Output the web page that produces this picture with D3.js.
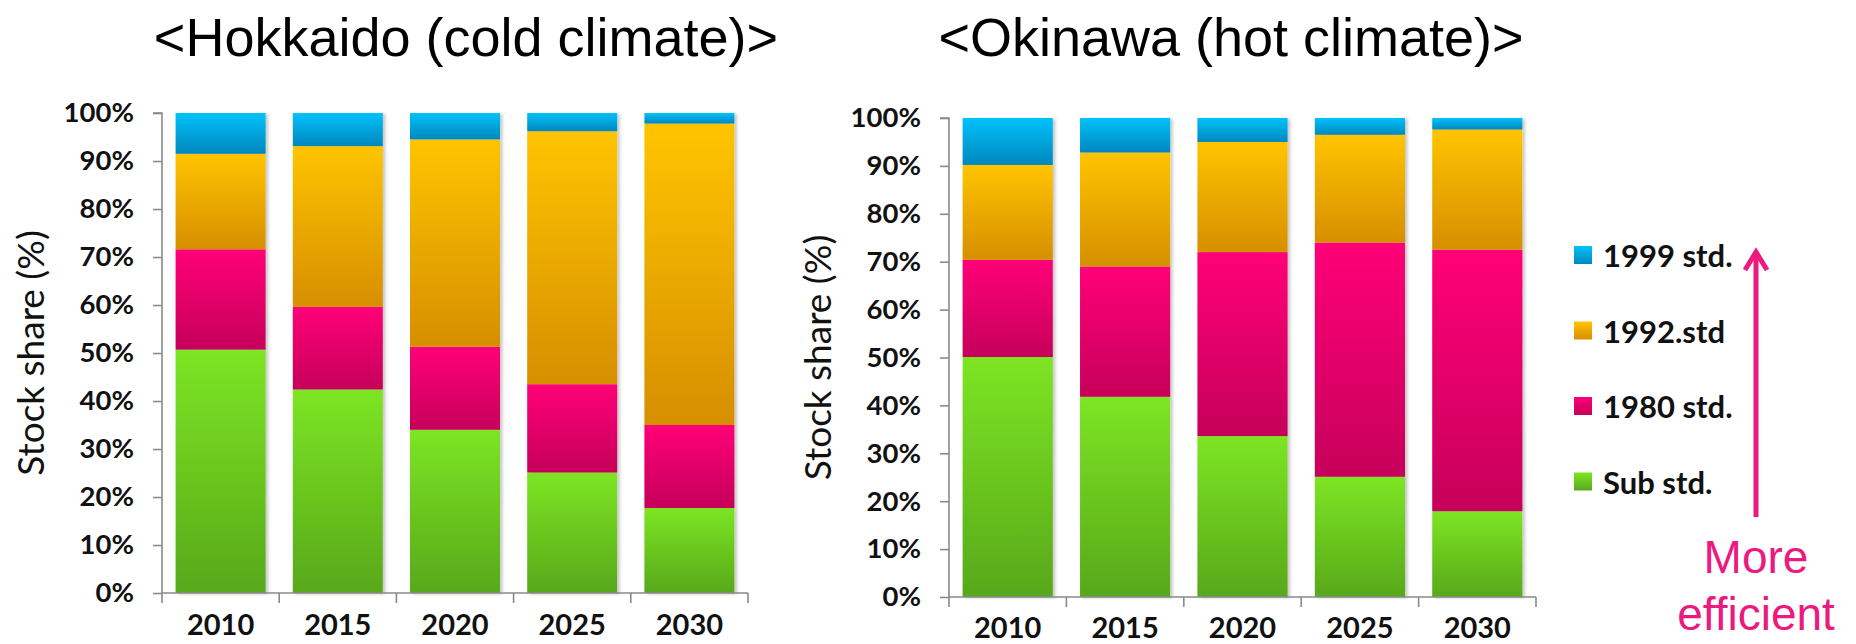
<!DOCTYPE html>
<html>
<head>
<meta charset="utf-8">
<script src="https://cdn.jsdelivr.net/npm/d3@7"></script>
<style>
  html, body { margin: 0; padding: 0; background: #ffffff; }
  svg { display: block; }
</style>
</head>
<body>
<svg id="chart" width="1856" height="644"></svg>
<script>
// Housing stock share by insulation standard, 2010-2030
const years = ["2010", "2015", "2020", "2025", "2030"];
const seriesKeys = ["sub", "s1980", "s1992", "s1999"];
const seriesLabels = ["Sub std.", "1980 std.", "1992.std", "1999 std."];
const yTicks = [0, 10, 20, 30, 40, 50, 60, 70, 80, 90, 100];

// Hokkaido (cold climate), % of stock
const hokkaidoSub   = [50.7, 42.4, 34.0, 25.1, 17.7];
const hokkaido1980  = [20.9, 17.2, 17.3, 18.4, 17.3];
const hokkaido1992  = [19.9, 33.5, 43.2, 52.7, 62.8];
const hokkaido1999  = [8.5, 6.9, 5.5, 3.8, 2.2];

// Okinawa (hot climate), % of stock
const okinawaSub    = [50.1, 41.8, 33.6, 25.1, 17.9];
const okinawa1980   = [20.3, 27.2, 38.4, 48.9, 54.6];
const okinawa1992   = [19.8, 23.8, 23.0, 22.5, 25.1];
const okinawa1999   = [9.8, 7.2, 5.0, 3.5, 2.4];

const palette = {
  sub:   ["#7de522", "#58a81c"],
  s1980: ["#ff0078", "#c6005a"],
  s1992: ["#ffc400", "#d68f00"],
  s1999: ["#00c2fa", "#0087be"]
};

const svg = d3.select("#chart");
const defs = svg.append("defs");

seriesKeys.forEach(k => {
  const g = defs.append("linearGradient")
    .attr("id", "grad-" + k)
    .attr("x1", 0).attr("y1", 0).attr("x2", 0).attr("y2", 1);
  g.append("stop").attr("offset", "0%").attr("stop-color", palette[k][0]);
  g.append("stop").attr("offset", "100%").attr("stop-color", palette[k][1]);
});

const shadow = defs.append("filter").attr("id", "barShadow")
  .attr("x", "-10%").attr("y", "-5%").attr("width", "130%").attr("height", "110%");
shadow.append("feDropShadow")
  .attr("dx", 2.5).attr("dy", 1).attr("stdDeviation", 1.8)
  .attr("flood-color", "#000").attr("flood-opacity", 0.22);

function buildRows(sub, s1980, s1992, s1999) {
  return years.map((y, i) => ({
    year: y, sub: sub[i], s1980: s1980[i], s1992: s1992[i], s1999: s1999[i]
  }));
}

const tickFont = "Lato, 'Open Sans', sans-serif";

function drawPanel(rows, opt) {
  const x = d3.scaleBand().domain(years)
    .range([opt.left, opt.right])
    .paddingInner(0.232).paddingOuter(0.116);
  const y = d3.scaleLinear().domain([0, 100]).range([opt.bottom, opt.top]);

  const stacked = d3.stack().keys(seriesKeys)(rows);

  const g = svg.append("g");

  // stacked bars
  const barsG = g.append("g").attr("filter", "url(#barShadow)");
  stacked.forEach(layer => {
    barsG.append("g")
      .selectAll("rect")
      .data(layer)
      .join("rect")
      .attr("x", d => x(d.data.year))
      .attr("width", x.bandwidth())
      .attr("y", d => y(d[1]))
      .attr("height", d => y(d[0]) - y(d[1]))
      .attr("fill", "url(#grad-" + layer.key + ")");
  });

  // y axis
  const yAxis = g.append("g")
    .attr("transform", `translate(${opt.left},0)`)
    .call(d3.axisLeft(y).tickValues(yTicks).tickFormat(d => d + "%").tickSize(9).tickPadding(19));
  yAxis.select(".domain").attr("stroke", "#8a8a8a").attr("stroke-width", 1.6)
    .attr("d", `M-9,${y(100)}H0V${y(0)}`);
  yAxis.selectAll(".tick line").attr("stroke", "#8a8a8a").attr("stroke-width", 1.6);
  yAxis.selectAll(".tick text")
    .attr("fill", "#111").attr("font-family", tickFont)
    .attr("font-weight", 700).attr("font-size", 27.5);

  // x axis with ticks at category boundaries
  const xAxisG = g.append("g").attr("transform", `translate(0,${opt.bottom})`);
  xAxisG.append("path")
    .attr("d", `M${opt.left},0H${opt.right}`)
    .attr("stroke", "#8a8a8a").attr("stroke-width", 1.6).attr("fill", "none");
  const boundaries = years.map(yr => x(yr) - x.step() * x.paddingInner() / 2).concat([opt.right]);
  xAxisG.selectAll("line.bound")
    .data(boundaries)
    .join("line")
    .attr("class", "bound")
    .attr("x1", d => d).attr("x2", d => d)
    .attr("y1", 0).attr("y2", 10)
    .attr("stroke", "#8a8a8a").attr("stroke-width", 1.6);
  xAxisG.selectAll("text.year")
    .data(years)
    .join("text")
    .attr("class", "year")
    .attr("x", d => x(d) + x.bandwidth() / 2)
    .attr("y", opt.yearOffset)
    .attr("text-anchor", "middle")
    .attr("fill", "#111").attr("font-family", tickFont)
    .attr("font-weight", 700).attr("font-size", 29)
    .text(d => d);

  // y axis title
  g.append("text")
    .attr("transform", `translate(${opt.left - 118},${(opt.top + opt.bottom) / 2}) rotate(-90)`)
    .attr("text-anchor", "middle")
    .attr("fill", "#111").attr("font-family", tickFont)
    .attr("font-size", 37)
    .text("Stock share (%)");

  // panel title
  svg.append("text")
    .attr("x", opt.titleX).attr("y", 56)
    .attr("text-anchor", "middle")
    .attr("fill", "#000").attr("font-family", "'Liberation Sans', Arial, sans-serif")
    .attr("font-size", 54)
    .text(opt.title);
}

drawPanel(buildRows(hokkaidoSub, hokkaido1980, hokkaido1992, hokkaido1999), {
  left: 162, right: 748, top: 113, bottom: 593, yearOffset: 42,
  title: "<Hokkaido (cold climate)>", titleX: 466
});

drawPanel(buildRows(okinawaSub, okinawa1980, okinawa1992, okinawa1999), {
  left: 949, right: 1536, top: 118, bottom: 597, yearOffset: 41,
  title: "<Okinawa (hot climate)>", titleX: 1231
});

// legend, top entry = most efficient standard
const legendOrder = seriesKeys.slice().reverse();
const legendLabels = seriesLabels.slice().reverse();
const legend = svg.append("g").attr("transform", "translate(1574,246)");
legend.selectAll("g.item")
  .data(legendOrder)
  .join("g")
  .attr("class", "item")
  .attr("transform", (d, i) => `translate(0,${i * 75.5})`)
  .each(function (d, i) {
    const it = d3.select(this);
    it.append("rect").attr("width", 18).attr("height", 18)
      .attr("fill", "url(#grad-" + d + ")");
    it.append("text")
      .attr("x", 29).attr("y", 21)
      .attr("fill", "#111").attr("font-family", tickFont)
      .attr("font-weight", 700).attr("font-size", 31)
      .text(legendLabels[i]);
  });

// efficiency arrow
const pink = "#ea1a7f";
const arrow = svg.append("g")
  .attr("stroke", pink).attr("stroke-width", 5)
  .attr("fill", "none").attr("stroke-linecap", "butt").attr("stroke-linejoin", "miter");
arrow.append("line").attr("x1", 1756).attr("x2", 1756).attr("y1", 517).attr("y2", 252);
arrow.append("polyline").attr("points", "1745,270 1756,252 1767,270");

svg.append("text")
  .attr("x", 1756).attr("y", 573)
  .attr("text-anchor", "middle")
  .attr("fill", pink).attr("font-family", "'Liberation Sans', Arial, sans-serif")
  .attr("font-size", 46)
  .text("More");
svg.append("text")
  .attr("x", 1756).attr("y", 630)
  .attr("text-anchor", "middle")
  .attr("fill", pink).attr("font-family", "'Liberation Sans', Arial, sans-serif")
  .attr("font-size", 46)
  .text("efficient");
</script>
</body>
</html>
